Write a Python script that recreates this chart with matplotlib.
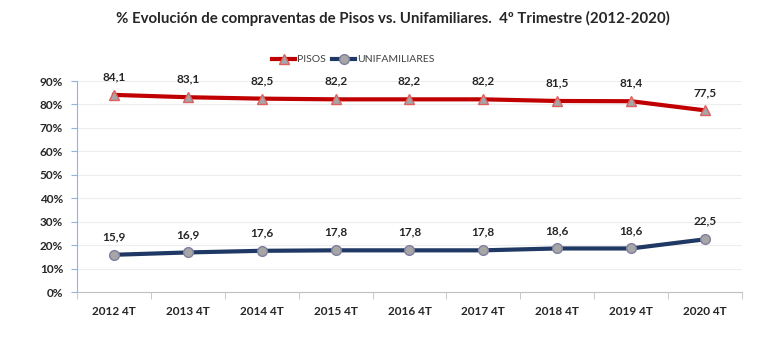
import numpy as np
import matplotlib
matplotlib.use("Agg")
import matplotlib.pyplot as plt
from matplotlib.ticker import FuncFormatter, FixedLocator

# Data
categories = ["2012 4T", "2013 4T", "2014 4T", "2015 4T", "2016 4T",
              "2017 4T", "2018 4T", "2019 4T", "2020 4T"]
pisos = [84.1, 83.1, 82.5, 82.2, 82.2, 82.2, 81.5, 81.4, 77.5]
unifamiliares = [15.9, 16.9, 17.6, 17.8, 17.8, 17.8, 18.6, 18.6, 22.5]

plt.rcParams['font.family'] = ['Lato', 'DejaVu Sans']

fig = plt.figure(figsize=(7.68, 3.42), dpi=100)
ax = fig.add_axes([0.1003, 0.146, 0.8657, 0.617])

x = np.arange(len(categories))
ax.plot(x, pisos, color="#C00000", lw=3, marker="^", ms=7,
        mfc="#A6A6A6", mec="#E06060", mew=1, label="PISOS", zorder=3)
ax.plot(x, unifamiliares, color="#1F3864", lw=3, marker="o", ms=7,
        mfc="#A6A6A6", mec="#7F7F9F", mew=1, label="UNIFAMILIARES", zorder=3)

# data labels
for serie in (pisos, unifamiliares):
    for xi, v in zip(x, serie):
        ax.annotate(f"{v:.1f}".replace(".", ","), (xi, v), xytext=(0, 9),
                    textcoords="offset points", ha="center", va="bottom",
                    fontsize=8.5, fontweight="bold", color="#262626")

ax.set_xlim(-0.5, len(categories) - 0.5)
ax.set_ylim(0, 90)
ax.set_yticks(np.arange(0, 91, 10))
ax.yaxis.set_major_formatter(FuncFormatter(lambda v, p: f"{int(v)}%"))
ax.set_xticks(x)
ax.set_xticklabels(categories)
ax.xaxis.set_minor_locator(FixedLocator(np.arange(-0.5, len(categories), 1)))
ax.tick_params(axis="x", which="major", length=0, pad=10)
ax.tick_params(axis="x", which="minor", length=5, color="#BFBFBF")
ax.tick_params(axis="y", length=4, color="#8EB4E3", pad=6)
for lbl in ax.get_xticklabels() + ax.get_yticklabels():
    lbl.set_fontsize(8.5)
    lbl.set_fontweight("bold")
    lbl.set_color("#262626")

ax.grid(axis="y", color="#EDEDED", lw=0.8)
ax.set_axisbelow(True)
for s in ["top", "right"]:
    ax.spines[s].set_visible(False)
ax.spines["left"].set_color("#8EB4E3")
ax.spines["bottom"].set_color("#BFBFBF")

fig.legend(loc="center", bbox_to_anchor=(0.46, 0.825), ncol=2, frameon=False,
           fontsize=7.5, handlelength=2.2, columnspacing=0.6, handletextpad=0.2,
           labelcolor="#404040")

fig.text(0.512, 0.945, "% Evolución de compraventas de Pisos vs. Unifamiliares.  4º Trimestre (2012-2020)",
         ha="center", va="center", fontsize=10.8, fontweight="bold", color="#262626")

fig.savefig("out.png", dpi=100)
